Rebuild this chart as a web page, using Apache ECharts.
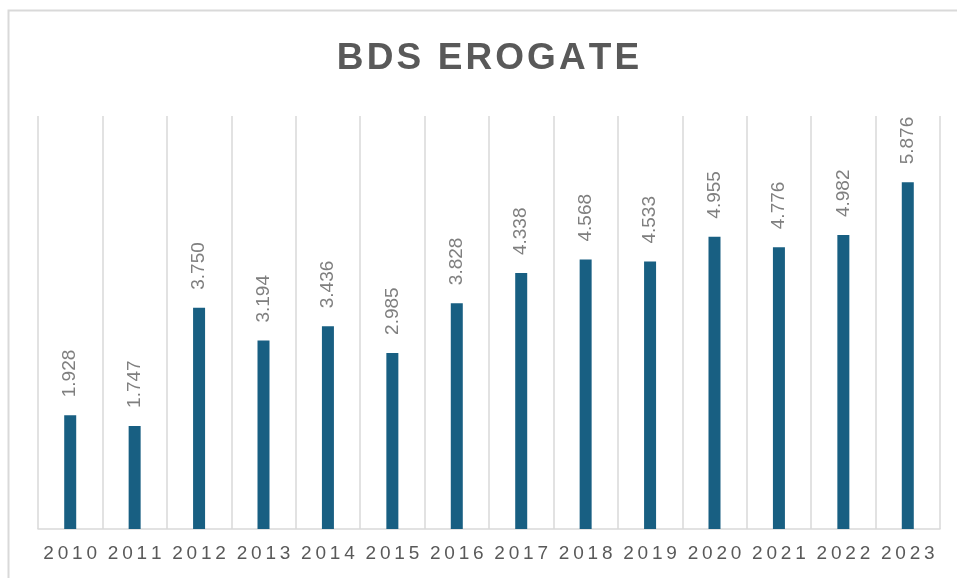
<!DOCTYPE html>
<html>
<head>
<meta charset="utf-8">
<script src="https://cdn.jsdelivr.net/npm/echarts@6/dist/echarts.min.js"></script>
<style>
  html, body { margin: 0; padding: 0; background: #fff; }
  #main { width: 957px; height: 578px; }
</style>
</head>
<body>
<div id="main"></div>
<script>
var years = ['2010', '2011', '2012', '2013', '2014', '2015', '2016', '2017', '2018', '2019', '2020', '2021', '2022', '2023'];
var erogate = [1.928, 1.747, 3.750, 3.194, 3.436, 2.985, 3.828, 4.338, 4.568, 4.533, 4.955, 4.776, 4.982, 5.876];

// spazio tra le lettere (canvas non ha letterSpacing in echarts)
function spaced(s, sep) {
    return s.split('').join(sep);
}

var myChart = echarts.init(document.getElementById('main'));
myChart.setOption({
    backgroundColor: '#fff',
    animation: false,
    title: {
        text: spaced('BDS EROGATE', '\u200A'),
        left: 483,
        textAlign: 'center',
        top: 35,
        textStyle: {
            color: '#595959',
            fontFamily: 'Liberation Sans',
            fontWeight: 'bold',
            fontSize: 37
        }
    },
    graphic: [{
        type: 'rect',
        shape: { x: 8.5, y: 10.5, width: 1000, height: 700 },
        style: { fill: 'none', stroke: '#d9d9d9', lineWidth: 2 },
        silent: true
    }],
    grid: {
        left: 38,
        right: 17,
        top: 116,
        bottom: 49
    },
    xAxis: {
        type: 'category',
        data: years,
        axisLine: { lineStyle: { color: '#d9d9d9', width: 1.5 } },
        axisTick: { show: false },
        splitLine: { show: true, interval: 0, lineStyle: { color: '#d9d9d9', width: 1.5 } },
        axisLabel: {
            interval: 0,
            margin: 15,
            color: '#595959',
            fontFamily: 'Liberation Sans',
            fontSize: 19,
            formatter: function (v) { return spaced(v, '\u2009'); }
        }
    },
    yAxis: {
        type: 'value',
        min: 0,
        max: 7,
        show: false,
        splitLine: { show: false }
    },
    series: [{
        type: 'bar',
        data: erogate,
        barWidth: 12,
        itemStyle: { color: '#185f82' },
        label: {
            show: true,
            position: 'top',
            rotate: 90,
            align: 'left',
            verticalAlign: 'middle',
            distance: 18,
            color: '#7f7f7f',
            fontFamily: 'Liberation Sans',
            fontSize: 19,
            formatter: function (p) { return p.value.toFixed(3); }
        }
    }]
});
</script>
</body>
</html>
